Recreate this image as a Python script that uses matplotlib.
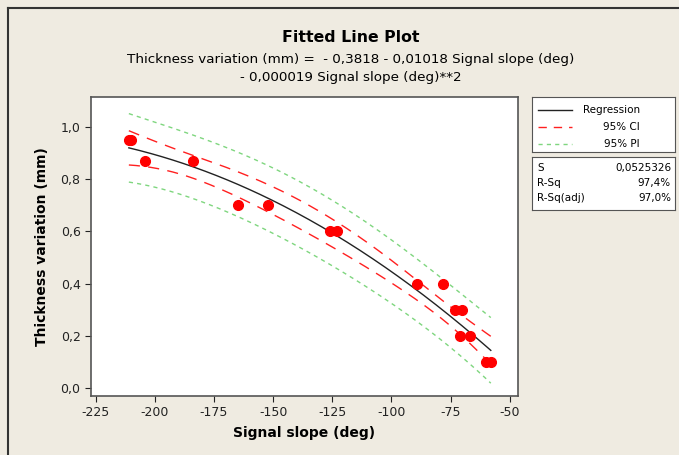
import numpy as np
import matplotlib
matplotlib.use("Agg")
import matplotlib.pyplot as plt
from matplotlib.lines import Line2D

slope_deg = [-211, -210, -204, -184, -165, -152, -126, -123,
             -89, -78, -73, -70, -71, -67, -60, -58]
thickness = [0.95, 0.95, 0.87, 0.87, 0.70, 0.70, 0.60, 0.60,
             0.40, 0.40, 0.30, 0.30, 0.20, 0.20, 0.10, 0.10]

# reported fit
coef = [-0.3818, -0.01018, -0.000019]
S_val = 0.0525326
stats_labels = ["S", "R-Sq", "R-Sq(adj)"]
stats_values = ["0,0525326", "97,4%", "97,0%"]
x_ticks = [-225, -200, -175, -150, -125, -100, -75, -50]
y_ticks = [0.0, 0.2, 0.4, 0.6, 0.8, 1.0]

BG = "#efebe1"
plt.rcParams['font.family'] = ['DejaVu Sans']

x = np.array(slope_deg, float)
y = np.array(thickness, float)
X = np.column_stack([np.ones_like(x), x, x ** 2])
XtX_inv = np.linalg.inv(X.T @ X)
t_crit = 2.160  # t(0.975, df = n - 3 = 13)

xs = np.linspace(x.min(), x.max(), 200)
Xs = np.column_stack([np.ones_like(xs), xs, xs ** 2])
fit = Xs @ np.array(coef)
h = np.einsum('ij,jk,ik->i', Xs, XtX_inv, Xs)
ci = t_crit * S_val * np.sqrt(h)
pi = t_crit * S_val * np.sqrt(1 + h)

fig = plt.figure(figsize=(6.79, 4.55), dpi=100, facecolor=BG)
ax = fig.add_axes([91 / 679, 59 / 455, 427 / 679, 299 / 455])
ax.set_facecolor("white")

green = "#7fd67f"
red = "#ff2020"
ax.plot(xs, fit + pi, color=green, lw=1, ls=(0, (3, 3)))
ax.plot(xs, fit - pi, color=green, lw=1, ls=(0, (3, 3)))
ax.plot(xs, fit + ci, color=red, lw=1, ls=(0, (8, 6)))
ax.plot(xs, fit - ci, color=red, lw=1, ls=(0, (8, 6)))
ax.plot(xs, fit, color="#222222", lw=1)
ax.plot(x, y, 'o', color="red", markersize=7, zorder=5)

ax.set_xlim(-227, -46.5)
ax.set_ylim(-0.03, 1.115)
ax.set_xticks(x_ticks)
ax.set_xticklabels([str(v) for v in x_ticks])
ax.set_yticks(y_ticks)
ax.set_yticklabels([f"{v:.1f}".replace(".", ",") for v in y_ticks])
ax.tick_params(direction="out", length=4, labelsize=9, colors="#222222")
for sp in ax.spines.values():
    sp.set_color("#555555")
    sp.set_linewidth(1.2)

ax.set_xlabel("Signal slope (deg)", fontsize=10, fontweight="bold", labelpad=5)
ax.set_ylabel("Thickness variation (mm)", fontsize=10, fontweight="bold", labelpad=8)

cx = 351 / 679
fig.text(cx, 1 - 38 / 455, "Fitted Line Plot", ha="center", va="center",
         fontsize=11.3, fontweight="bold")
fig.text(cx, 1 - 59 / 455,
         "Thickness variation (mm) =  - 0,3818 - 0,01018 Signal slope (deg)",
         ha="center", va="center", fontsize=9.7)
fig.text(cx, 1 - 78 / 455, "- 0,000019 Signal slope (deg)**2",
         ha="center", va="center", fontsize=9.7)

# legend box
lax = fig.add_axes([532 / 679, 1 - 152 / 455, 143 / 679, 55 / 455])
lax.set_facecolor("white")
lax.set_xlim(0, 143)
lax.set_ylim(55, 0)
lax.set_xticks([])
lax.set_yticks([])
for sp in lax.spines.values():
    sp.set_color("#555555")
entries = [("Regression", "#222222", "-"), ("95% CI", red, (0, (6, 5))),
           ("95% PI", green, (0, (3, 3)))]
for i, (lab, c, ls) in enumerate(entries):
    yy = 13 + i * 17
    lax.add_line(Line2D([6, 40], [yy, yy], color=c, lw=1, ls=ls))
    lax.text(108, yy, lab, ha="right", va="center", fontsize=7.5)

# stats box
sax = fig.add_axes([532 / 679, 1 - 210 / 455, 143 / 679, 53 / 455])
sax.set_facecolor("white")
sax.set_xlim(0, 143)
sax.set_ylim(53, 0)
sax.set_xticks([])
sax.set_yticks([])
for sp in sax.spines.values():
    sp.set_color("#555555")
for i, (lab, val) in enumerate(zip(stats_labels, stats_values)):
    yy = 11 + i * 15
    sax.text(5, yy, lab, ha="left", va="center", fontsize=7.5)
    sax.text(139, yy, val, ha="right", va="center", fontsize=7.5)

# outer frame
fig.add_artist(Line2D([8 / 679, 1], [1 - 8 / 455, 1 - 8 / 455], color="#333333", lw=1.5))
fig.add_artist(Line2D([8 / 679, 8 / 679], [0, 1 - 8 / 455], color="#333333", lw=1.5))

fig.savefig("out.png", dpi=100, facecolor=BG)
